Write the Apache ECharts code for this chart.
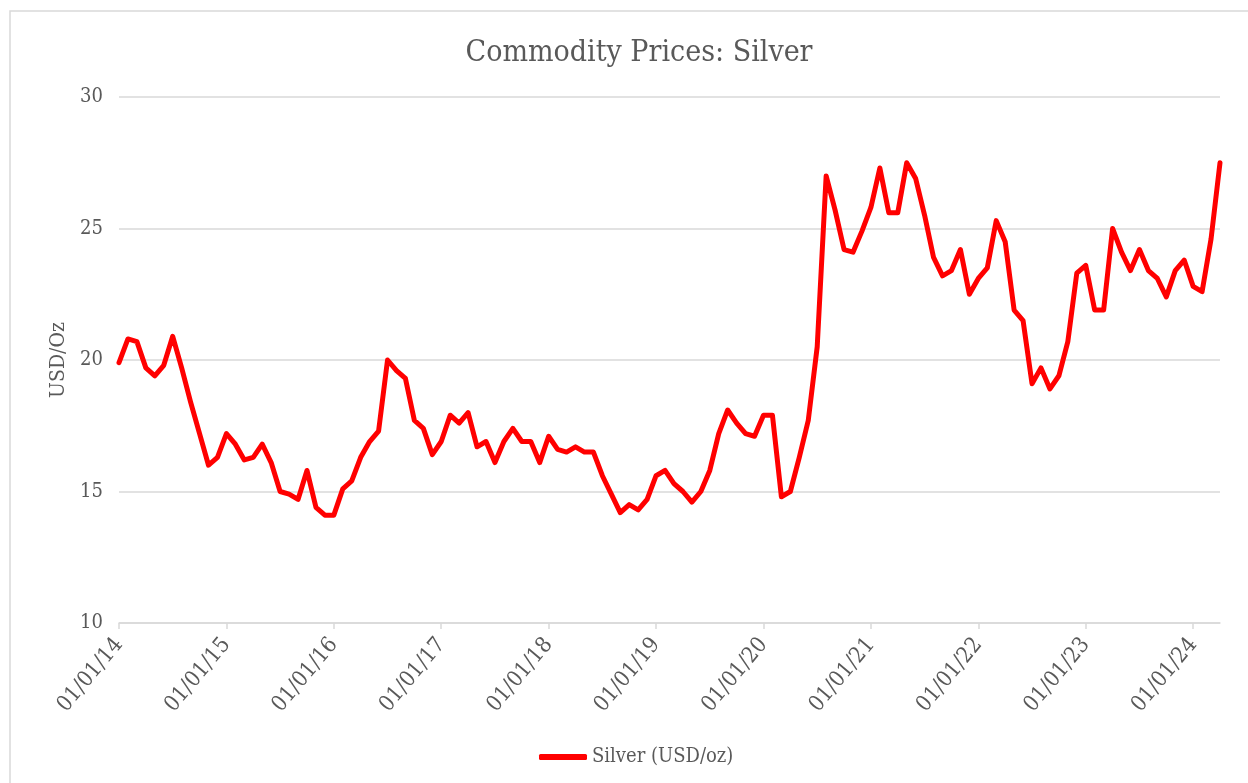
<!DOCTYPE html>
<html>
<head>
<meta charset="utf-8">
<title>Commodity Prices: Silver</title>
<script src="https://cdn.jsdelivr.net/npm/echarts@6/dist/echarts.min.js"></script>
<style>
  html, body { margin: 0; padding: 0; background: #ffffff; }
  #chart { width: 1248px; height: 783px; }
</style>
</head>
<body>
<div id="chart"></div>
<script>
// Monthly silver prices, USD per troy ounce, Jan 2014 - Apr 2024
const startYear = 2014;
const silver2014 = [19.9, 20.8, 20.7, 19.7, 19.4, 19.8, 20.9, 19.7, 18.4, 17.2, 16.0, 16.3];
const silver2015 = [17.2, 16.8, 16.2, 16.3, 16.8, 16.1, 15.0, 14.9, 14.7, 15.8, 14.4, 14.1];
const silver2016 = [14.1, 15.1, 15.4, 16.3, 16.9, 17.3, 20.0, 19.6, 19.3, 17.7, 17.4, 16.4];
const silver2017 = [16.9, 17.9, 17.6, 18.0, 16.7, 16.9, 16.1, 16.9, 17.4, 16.9, 16.9, 16.1];
const silver2018 = [17.1, 16.6, 16.5, 16.7, 16.5, 16.5, 15.6, 14.9, 14.2, 14.5, 14.3, 14.7];
const silver2019 = [15.6, 15.8, 15.3, 15.0, 14.6, 15.0, 15.8, 17.2, 18.1, 17.6, 17.2, 17.1];
const silver2020 = [17.9, 17.9, 14.8, 15.0, 16.3, 17.7, 20.5, 27.0, 25.7, 24.2, 24.1, 24.9];
const silver2021 = [25.8, 27.3, 25.6, 25.6, 27.5, 26.9, 25.5, 23.9, 23.2, 23.4, 24.2, 22.5];
const silver2022 = [23.1, 23.5, 25.3, 24.5, 21.9, 21.5, 19.1, 19.7, 18.9, 19.4, 20.7, 23.3];
const silver2023 = [23.6, 21.9, 21.9, 25.0, 24.1, 23.4, 24.2, 23.4, 23.1, 22.4, 23.4, 23.8];
const silver2024 = [22.8, 22.6, 24.6, 27.5];

const silverPrices = [].concat(
  silver2014, silver2015, silver2016, silver2017, silver2018, silver2019,
  silver2020, silver2021, silver2022, silver2023, silver2024
);

// dd/mm/yy labels, one per month
const monthDates = silverPrices.map(function (_, i) {
  const y = startYear + Math.floor(i / 12);
  const m = (i % 12) + 1;
  return '01/' + String(m).padStart(2, '0') + '/' + String(y % 100).padStart(2, '0');
});

const yTicks = { min: 10, max: 30, interval: 5 };

const textColor = '#595959';
const gridColor = '#d9d9d9';
const fontFamily = '"DejaVu Serif Condensed", "DejaVu Serif", "Liberation Serif", serif';

const chart = echarts.init(document.getElementById('chart'), null, { renderer: 'canvas' });

const yearStart = function (index) { return index % 12 === 0; };

chart.setOption({
  backgroundColor: '#ffffff',
  animation: false,
  textStyle: { fontFamily: fontFamily, color: textColor },
  graphic: [{
    type: 'rect',
    silent: true,
    z: -1,
    shape: { x: 10, y: 11, width: 1300, height: 820 },
    style: { fill: 'none', stroke: gridColor, lineWidth: 1.5 }
  }],
  title: {
    text: 'Commodity Prices: Silver',
    left: 634,
    textAlign: 'center',
    top: 33,
    textStyle: { fontFamily: fontFamily, fontSize: 30, fontWeight: 'normal', color: textColor }
  },
  legend: {
    left: 534,
    top: 742,
    icon: 'roundRect',
    itemWidth: 48,
    itemHeight: 6,
    itemGap: 10,
    textStyle: { fontFamily: fontFamily, fontSize: 20, color: textColor },
    data: ['Silver (USD/oz)']
  },
  grid: { left: 119, right: 28, top: 97, bottom: 160, containLabel: false },
  xAxis: {
    type: 'category',
    data: monthDates,
    boundaryGap: false,
    axisLine: { show: true, lineStyle: { color: gridColor, width: 1.5 } },
    axisTick: { show: true, interval: yearStart, length: 6, lineStyle: { color: gridColor, width: 1.5 } },
    axisLabel: {
      interval: yearStart,
      rotate: 50,
      margin: 18,
      fontFamily: fontFamily,
      fontSize: 22,
      color: textColor
    },
    splitLine: { show: false }
  },
  yAxis: {
    type: 'value',
    min: yTicks.min,
    max: yTicks.max,
    interval: yTicks.interval,
    name: 'USD/Oz',
    nameLocation: 'middle',
    nameRotate: 90,
    nameGap: 50,
    nameTextStyle: { fontFamily: fontFamily, fontSize: 21, color: textColor },
    axisLine: { show: false },
    axisTick: { show: false },
    axisLabel: { margin: 16, fontFamily: fontFamily, fontSize: 20, color: textColor },
    splitLine: { lineStyle: { color: gridColor, width: 1.5 } }
  },
  series: [{
    name: 'Silver (USD/oz)',
    type: 'line',
    data: silverPrices,
    symbol: 'none',
    smooth: false,
    color: '#ff0000',
    lineStyle: { color: '#ff0000', width: 5, cap: 'round', join: 'round' },
    itemStyle: { color: '#ff0000' }
  }]
});
</script>
</body>
</html>
